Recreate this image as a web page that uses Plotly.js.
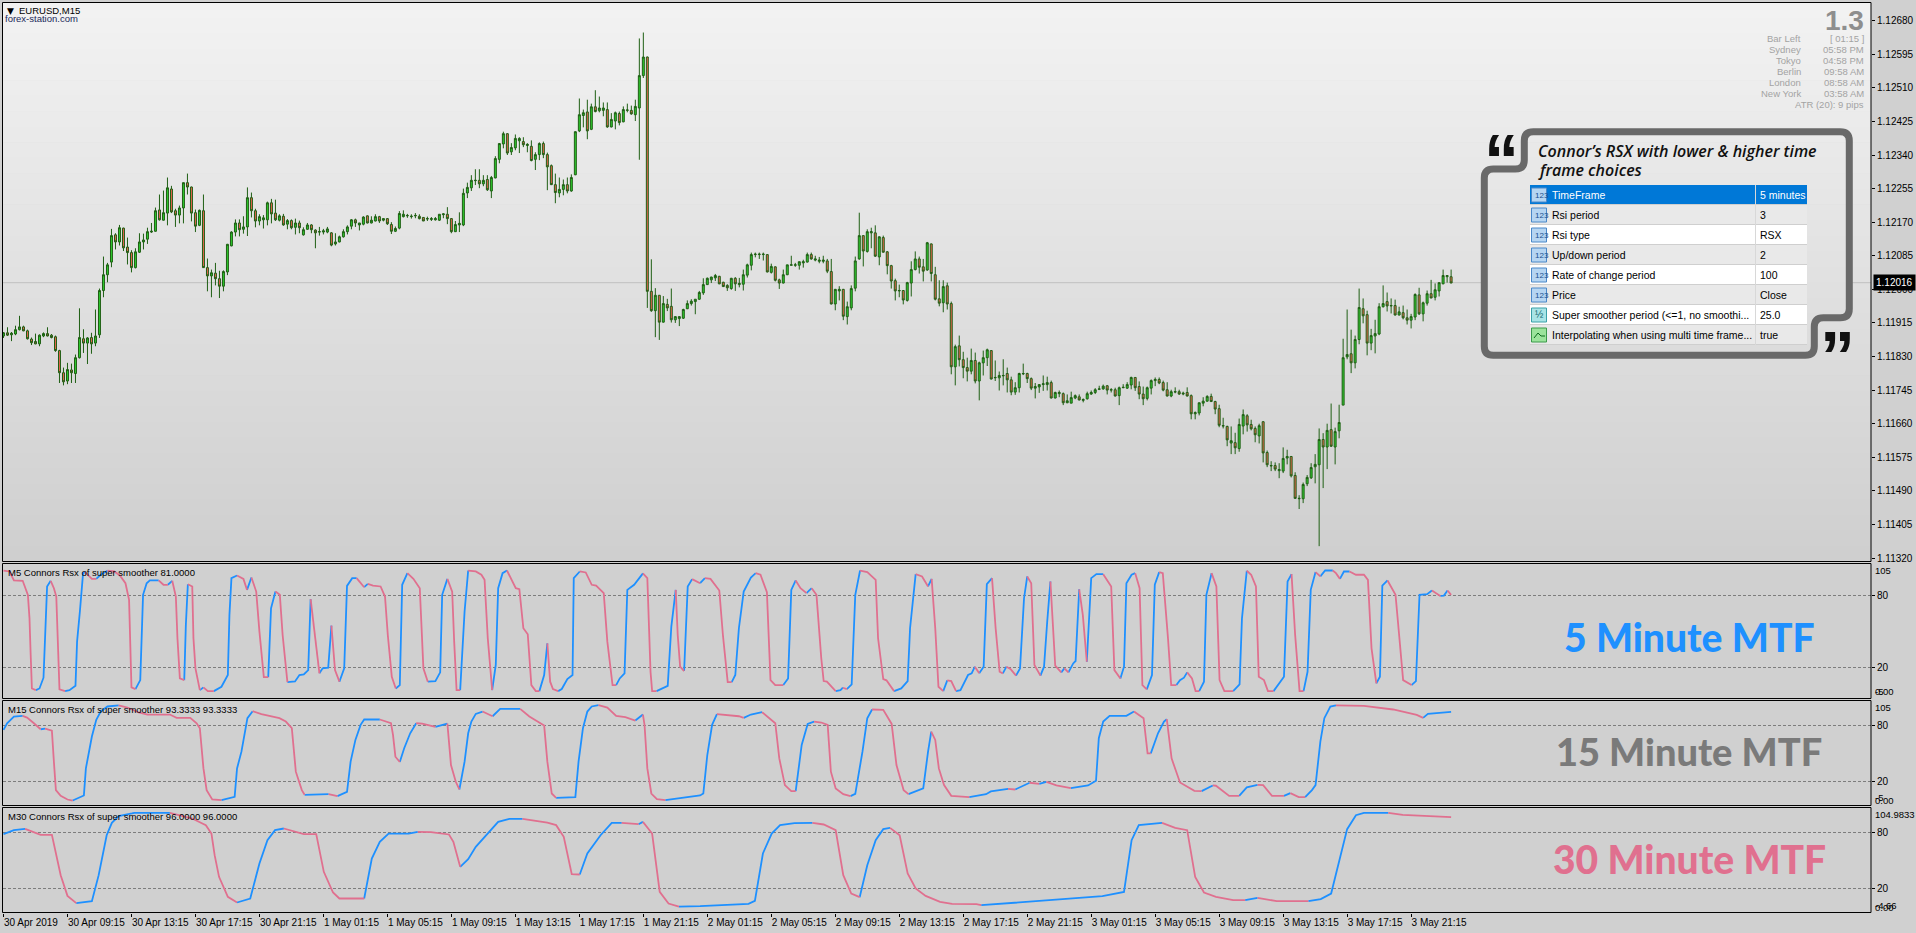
<!DOCTYPE html>
<html><head><meta charset="utf-8">
<script src="https://cdn.plot.ly/plotly-3.0.1.min.js"></script>
<style>html,body{margin:0;padding:0;background:#d0d0d0;overflow:hidden}#c{width:1916px;height:933px}</style>
</head><body><div id="c"></div>
<script>
// Candles: pipettes above 1.10000
const highs=[1892,1904,1892,1908,1933,1908,1898,1878,1888,1886,
1891,1904,1887,1883,1847,1802,1814,1812,1835,1952,
1899,1879,1890,1949,2002,2083,2067,2153,2142,2163,
2156,2131,2099,2104,2142,2141,2156,2168,2207,2240,
2250,2283,2262,2204,2212,2270,2293,2260,2202,2202,
2240,2078,2050,2067,2047,2048,2115,2147,2177,2177,
2185,2258,2245,2204,2190,2188,2222,2229,2227,2190,
2191,2178,2177,2179,2174,2157,2168,2165,2152,2158,
2153,2158,2145,2142,2136,2152,2162,2178,2179,2168,
2185,2187,2185,2190,2186,2179,2180,2170,2159,2198,
2200,2191,2190,2193,2190,2183,2184,2183,2183,2190,
2192,2208,2180,2173,2195,2255,2270,2289,2304,2304,
2289,2289,2287,2337,2370,2399,2395,2370,2392,2385,
2385,2370,2377,2347,2372,2374,2346,2316,2293,2283,
2278,2283,2291,2400,2483,2455,2480,2470,2504,2488,
2473,2473,2446,2450,2450,2463,2470,2465,2480,2635,
2650,2589,2076,2003,1985,1983,1976,2002,1932,1932,
1951,1972,1975,1975,1996,2028,2030,2032,2039,2034,
2019,2013,2029,2031,2029,2050,2065,2093,2093,2093,
2093,2088,2065,2058,2027,2050,2062,2085,2067,2070,
2075,2093,2093,2085,2082,2085,2077,2077,2001,2008,
2001,1969,2010,2083,2194,2136,2152,2156,2162,2134,
2136,2097,2062,2027,2012,1998,2019,2071,2096,2083,
2077,2120,2116,2057,2023,2023,2017,1969,1860,1883,
1842,1827,1850,1840,1817,1845,1850,1846,1820,1792,
1823,1802,1779,1765,1789,1812,1789,1777,1763,1760,
1782,1779,1769,1741,1744,1739,1734,1741,1734,1734,
1724,1741,1744,1750,1756,1759,1758,1750,1751,1754,
1760,1765,1779,1777,1767,1754,1754,1772,1777,1777,
1769,1765,1746,1752,1746,1741,1752,1734,1691,1713,
1727,1732,1736,1718,1708,1675,1655,1653,1637,1673,
1696,1684,1670,1653,1660,1666,1592,1565,1562,1560,
1600,1594,1578,1537,1479,1511,1530,1560,1583,1648,
1636,1660,1711,1650,1708,1875,1949,1898,1883,2002,
1977,1946,1900,1923,1965,2010,1992,1977,1974,1956,
1959,1949,1938,1990,2004,1969,1997,2024,2015,2017,
2050,2035,2050];
const lows=[1877,1882,1869,1884,1896,1894,1873,1859,1861,1856,
1879,1881,1876,1842,1763,1757,1760,1763,1763,1825,
1839,1811,1837,1856,1877,1980,2018,2056,2101,2111,
2097,2063,2043,2053,2092,2101,2115,2143,2146,2174,
2174,2162,2193,2158,2167,2167,2240,2172,2145,2160,
2054,1995,1980,2010,1978,1995,2036,2109,2134,2134,
2141,2135,2182,2157,2162,2154,2162,2167,2173,2172,
2161,2152,2152,2139,2142,2136,2151,2142,2104,2136,
2139,2142,2109,2111,2119,2131,2139,2152,2158,2149,
2162,2167,2167,2172,2168,2172,2163,2140,2145,2152,
2182,2181,2179,2180,2177,2173,2173,2173,2174,2173,
2180,2165,2142,2145,2145,2160,2231,2249,2264,2256,
2261,2249,2231,2281,2319,2357,2340,2340,2352,2345,
2360,2347,2324,2302,2327,2332,2251,2264,2218,2233,
2238,2243,2247,2289,2398,2410,2380,2403,2448,2448,
2438,2409,2410,2405,2415,2423,2448,2442,2426,2328,
2535,1953,1943,1879,1872,1916,1945,1916,1915,1907,
1925,1950,1959,1937,1973,1986,2011,2016,2021,2013,
2006,1996,1999,1996,2005,1997,2030,2048,2081,2077,
2073,2043,2040,2020,2001,2015,2036,2061,2057,2050,
2055,2068,2075,2071,2066,2066,2041,1962,1947,1972,
1922,1911,1947,1995,2075,2058,2093,2104,2082,2061,
2093,2038,2002,1972,1980,1962,1969,1982,2048,2040,
2020,2047,2020,1972,1957,1942,1949,1785,1757,1805,
1775,1767,1785,1762,1719,1782,1806,1772,1768,1744,
1757,1739,1732,1733,1739,1783,1763,1745,1724,1738,
1743,1744,1724,1724,1727,1707,1712,1712,1722,1719,
1714,1721,1733,1735,1745,1746,1734,1739,1729,1707,
1750,1748,1747,1743,1722,1707,1719,1734,1755,1760,
1742,1729,1727,1737,1733,1732,1729,1671,1671,1681,
1704,1716,1715,1684,1651,1648,1603,1583,1583,1589,
1633,1640,1643,1613,1610,1562,1550,1540,1540,1522,
1535,1557,1524,1470,1444,1459,1502,1520,1509,1350,
1497,1545,1601,1557,1623,1707,1823,1788,1800,1861,
1914,1833,1846,1838,1884,1954,1944,1939,1934,1934,
1924,1911,1901,1922,1935,1919,1959,1978,1972,1982,
2013,2017,2016];
const opens=[1882,1890,1885,1887,1898,1905,1895,1874,1868,1862,
1882,1888,1884,1880,1845,1789,1768,1796,1787,1827,
1875,1864,1878,1864,1885,1997,2037,2069,2138,2120,
2155,2107,2093,2055,2094,2120,2127,2145,2147,2201,
2175,2193,2254,2199,2188,2206,2270,2259,2194,2162,
2199,2055,2034,2041,2027,2008,2044,2110,2145,2168,
2152,2158,2232,2199,2173,2176,2176,2219,2193,2175,
2185,2165,2174,2157,2168,2138,2152,2163,2150,2145,
2145,2145,2143,2115,2120,2133,2146,2160,2176,2163,
2165,2186,2168,2173,2184,2175,2179,2164,2147,2155,
2184,2186,2184,2186,2185,2182,2178,2177,2176,2175,
2189,2190,2179,2146,2163,2163,2244,2257,2275,2276,
2267,2278,2249,2282,2329,2368,2394,2348,2358,2376,
2374,2364,2362,2329,2341,2369,2341,2313,2265,2244,
2253,2265,2249,2290,2401,2440,2449,2405,2462,2452,
2453,2455,2411,2426,2445,2424,2453,2453,2442,2459,
2541,2588,1995,1946,1985,1917,1962,1957,1923,1926,
1927,1951,1964,1969,1975,1991,2012,2024,2029,2033,
2018,2010,2002,2028,2012,2013,2036,2061,2088,2088,
2088,2088,2043,2057,2024,2016,2037,2061,2061,2061,
2067,2069,2088,2074,2071,2071,2072,2045,1963,1996,
2000,1931,1953,2003,2077,2136,2096,2143,2143,2082,
2131,2095,2060,2022,1996,1997,1972,2016,2050,2077,
2057,2049,2115,2037,1976,1966,2009,1964,1804,1857,
1822,1802,1793,1820,1768,1814,1827,1845,1776,1776,
1781,1787,1771,1740,1751,1786,1787,1774,1750,1753,
1759,1759,1764,1725,1736,1736,1713,1712,1725,1728,
1719,1723,1735,1739,1747,1748,1756,1745,1746,1731,
1751,1750,1758,1777,1754,1735,1724,1750,1769,1772,
1764,1746,1730,1740,1741,1735,1739,1731,1685,1687,
1712,1717,1729,1716,1698,1654,1653,1611,1612,1597,
1654,1680,1658,1648,1629,1665,1587,1553,1554,1541,
1540,1573,1577,1529,1470,1470,1508,1523,1551,1556,
1620,1601,1645,1601,1642,1707,1829,1837,1814,1873,
1951,1936,1864,1882,1887,1956,1969,1958,1959,1935,
1941,1928,1922,1930,1986,1938,1965,1989,1980,1996,
2014,2032,2032];
const closes=[1890,1884,1889,1898,1905,1895,1875,1865,1862,1884,
1888,1882,1878,1845,1789,1766,1797,1789,1827,1878,
1864,1877,1862,1882,1997,2037,2062,2136,2120,2156,
2105,2093,2055,2095,2120,2125,2146,2147,2199,2176,
2194,2257,2196,2188,2206,2270,2259,2193,2160,2200,
2055,2034,2042,2027,2008,2045,2114,2145,2168,2151,
2158,2232,2199,2173,2184,2181,2219,2191,2176,2186,
2163,2174,2156,2168,2156,2151,2163,2151,2143,2146,
2148,2153,2112,2120,2133,2146,2158,2176,2168,2168,
2183,2168,2175,2184,2173,2179,2166,2147,2154,2192,
2190,2187,2185,2187,2179,2173,2179,2179,2179,2190,
2191,2179,2146,2164,2167,2243,2258,2276,2276,2267,
2276,2252,2283,2331,2369,2394,2345,2359,2382,2382,
2366,2367,2326,2341,2369,2341,2310,2265,2245,2253,
2265,2249,2283,2399,2442,2447,2401,2462,2450,2459,
2459,2411,2430,2447,2422,2455,2454,2444,2463,2541,
2588,1995,1946,1985,1917,1964,1953,1923,1931,1931,
1949,1964,1970,1975,1992,2012,2028,2031,2035,2014,
2007,2004,2028,2014,2015,2037,2062,2088,2089,2089,
2089,2044,2058,2023,2016,2037,2062,2062,2062,2070,
2070,2088,2077,2077,2074,2074,2046,1963,2000,2000,
1932,1956,2002,2072,2136,2097,2146,2146,2084,2133,
2094,2060,2021,1996,1997,1973,2017,2050,2077,2056,
2046,2118,2040,1975,1965,2007,1963,1804,1855,1822,
1802,1793,1820,1768,1814,1827,1847,1773,1777,1782,
1782,1771,1740,1751,1787,1787,1774,1750,1754,1759,
1761,1764,1725,1739,1739,1713,1718,1726,1731,1720,
1721,1736,1739,1746,1748,1755,1745,1746,1730,1751,
1752,1759,1777,1751,1735,1723,1751,1769,1772,1763,
1745,1730,1741,1741,1735,1737,1730,1685,1688,1713,
1717,1729,1716,1697,1656,1655,1619,1617,1599,1658,
1683,1657,1647,1632,1655,1586,1556,1554,1545,1544,
1572,1577,1528,1471,1471,1506,1524,1549,1557,1620,
1601,1643,1603,1640,1663,1827,1835,1814,1873,1954,
1933,1864,1883,1888,1956,1964,1958,1959,1935,1943,
1928,1922,1931,1987,1938,1966,1989,1978,1999,2017,
2035,2035,2016];

// Indicator turning points: bar number, value
const m5Bars=[0,1.5,2.6,4.8,6.1,6.5,6.8,7.1,8.1,9,10,10.4,10.9,11.8,12.6,13.2,13.5,14,15.4,16.5,18,18.4,19.1,19.9,20.4,22.1,23.2,24.3,26,27.7,29.1,30.5,31.4,31.6,32,33,34.2,34.9,35.8,36.6,38.8,40,41.1,42.2,43.1,43.5,44.1,45.2,45.6,46.1,47.2,47.5,48,49.1,50,51.1,52.6,54.5,56.1,56.5,57,58.4,60,60.9,62,63.2,64,65.1,66.2,66.9,68,69.1,69.8,71,72.9,74,75.1,76.2,76.8,77.7,79,79.8,81.2,82,82.9,84,85.2,85.9,87.2,88.3,90.2,91.1,92.4,94.3,95.4,96.1,97.1,98.1,99.1,99.7,101,102.5,104.1,104.5,105,106.1,108,109.2,109.7,111,112.2,112.7,113.3,114.2,115.3,116.2,118.1,119.5,120.3,121.1,122.2,123.1,123.7,124.8,125.9,128.1,129,130,131.1,132,133.1,134,135.2,136,136.7,137.4,138.7,139.6,141,142.3,142.6,144.1,145.6,147.1,148.2,150.1,151,152.3,153.2,154.1,155.3,156,157.7,159.9,161,161.8,162.2,163.3,166.1,167,168.1,168.6,169.2,170.2,171.1,172.2,174.2,175.4,176.8,179,179.9,181.1,182.1,183,183.9,185.1,186.9,188.1,189.3,190.9,191.8,193,195,196.2,197,198.1,199.3,200.8,202.1,203.3,204.5,205.1,205.9,208.1,209.3,209.9,210.9,212.1,213,214.2,216,218.1,218.7,220,220.8,222.7,224.5,226.1,226.7,228.1,229.7,231.2,232.1,233,233.8,235,236,237,238.2,239.3,241.2,242.1,242.9,244,245.1,245.9,247.2,248.1,249.1,249.9,250.8,251.8,253.2,254.2,255.2,256,257,257.8,259.3,260.2,261,261.8,262.4,263,264.5,265.3,266.3,267.5,268.1,269,269.9,270.9,272,273.3,275,277,277.8,279.3,280.2,280.8,282.1,283,284.1,284.8,285.9,287.2,287.9,289,289.9,291.2,292,293.3,294.2,295.2,296,297.2,298.1,299,300.2,300.8,302.1,303.3,304.1,305.3,307.5,309.1,309.7,310.9,312,313.2,313.9,315.2,316.2,317.6,320.2,321.1,322.1,323,324.1,325.1,326.1,326.9,328.1,329.3,330.5,332.4,333.2,334.2,335.2,336.6,338.2,340.2,341.2,342.1,343.3,344.2,344.8,346.1,348.1,349,350,352.1,353.2,354.1,356,357.2,359.3,360.2,361.1,362];
const m5Values=[100.4,99.6,92.2,91.9,80.3,60.9,30.5,2.9,1.5,2.9,11.8,47.1,87.2,91.9,85.8,78.9,44.4,2.1,0.7,1.5,5.1,41.6,66.5,98.2,99.1,93.5,93.5,96.9,100.2,99.6,96.3,89.9,76.1,47.1,3.8,2.4,9.8,80.3,89.9,92.2,92.2,88.6,88.6,91.9,78.9,44.4,11.2,9.8,55.4,89.1,87.2,44.4,19.5,1.5,3.8,0.7,0.7,4.3,14,63.7,94.1,96.3,93.5,84.4,94.6,83,49.9,12.3,12.3,69.2,83,80.3,47.1,8.2,8.7,14,14.5,18.1,76.7,49.9,15.4,19.5,20.1,54.9,18.1,8.5,19.5,87.7,94.1,94.1,86.6,89.4,88,87.2,78.9,47.1,12.6,2.9,5.7,88.6,98.2,93.5,85.8,49.9,19.5,8.5,9,16.2,80.3,93.5,83,41.6,1.5,1.5,66.5,100.4,99.6,96.9,92.7,44.4,1.5,22.3,85.8,98.2,100.4,85.8,85,52.7,47.7,5.7,0.7,0.7,14,40.2,8.5,2.4,0.7,2.4,10.7,14,94.1,99.6,98.8,88.6,88,81.7,41.6,5.7,5.7,11.2,15.4,84.4,88.6,98,94.1,16.7,0.7,0.7,5.1,54,84.4,47.1,20.9,17.3,87.2,93.3,89.9,94.1,93.5,83.9,47.1,8.2,8.2,14,52.7,83,94.6,98.2,96.9,82.5,9.8,5.7,5.7,11.2,84.4,92.2,85.8,81.7,85.8,80.3,27.8,9,8.5,0.7,1.5,3.5,2.4,6.2,80.3,100.4,99.1,92.7,44.4,10.7,9.6,0.7,2.9,9,52.7,97.4,95.5,87.2,93.5,52.7,4.3,0.7,9.6,9,0.7,1.5,14,15.4,20.9,15.4,20.9,89.1,94.1,52.7,16.7,15.4,20.9,19,13.5,19.5,77.5,95.5,89.9,22.3,13.5,20.9,58.2,91.3,52.7,21.7,16.2,19.5,16.2,23.6,25.6,84.9,63.7,25,94.1,97.4,97.4,87.2,18.1,11.2,20.9,89.9,96.9,98.2,85.8,5.7,2.1,14,88.6,99.1,98.2,44.4,5.7,5.7,9.8,11.8,16.2,11.2,0.7,0.7,8.5,80.3,98.2,87.2,9.8,0.7,0.7,6.2,60.9,100.2,96.9,87.2,12.6,9.8,0.7,0.7,12.6,91.3,97.4,47.1,0.7,0.7,16.7,84.4,99.1,95.5,100.4,100.4,98.2,93.5,99.6,99.6,96.9,96.9,92.7,36.1,7.1,12.6,88,92.2,80.3,47.1,9.8,5.7,9,80.3,80.8,83.9,79.4,79.7,83.9,80.3];
const m15Bars=[0,0.9,2.6,4.8,5.9,7.6,9.3,10.4,12.1,12.6,13.1,14.3,16,17.3,18.8,20.1,20.6,22.1,23.2,24.3,26,28.8,31,33.8,36,41.6,43.3,46.7,48.3,49.1,50,50.8,52.2,54.5,57.8,58.4,59.5,61,62.3,64.5,69,70.6,72.1,73.1,74.6,75.3,81.3,83.5,85.9,86.8,88,89.3,90.2,94.1,96.9,97.4,98,99.1,100.2,101.7,103.2,104.7,108,111,111.9,113.1,114,115.3,116.2,117,118.1,119.8,122.3,124.2,129.2,131.5,135.2,136,137.1,138.2,143,143.8,144.9,146,147.1,148.8,151,153.2,155.5,158,159.9,160.3,161,162,163.4,165.5,168.9,174.2,175,176,177.2,178.4,183.9,185.1,186.9,189.7,193,194,195.4,197,198.1,199.6,201.1,202.7,204.5,206.1,206.9,208.1,210,211.8,213,214.8,216,217.2,220,222.1,223.3,225.1,226.3,230,231.2,232,233,233.9,235.2,237,241.5,245.7,246.9,251.2,253,256.6,259,260.8,263.3,266.9,271.2,273.2,273.9,275,276.6,280.8,282.7,285.1,286.1,286.9,288.7,290.2,290.9,292.1,294.2,297.8,299.6,302.4,303.2,306.5,309,310.9,313.6,315,317.2,320.2,321.8,323.9,325.5,327.2,328.1,329.3,330.3,331.8,333.2,340.2,347.5,353.4,355,356.2,362];
const m15Values=[75,82.1,89.3,90,88.2,82.1,75.7,76.4,74.3,41.1,10.7,4.6,0.7,-0.4,2.9,5,33.9,67.9,85.7,94.6,100,101.1,98.9,93.6,91.4,91.4,87.9,87.9,82.1,76.8,33.9,10.7,0.7,0,3.6,33.9,51.8,87.5,95,91.8,87.5,83.9,76.8,30.4,10.7,5.7,6.4,4.3,8.9,41.1,64.3,80.4,86.1,86.1,82.1,69.6,46.4,40.7,55.4,71.4,82.1,81.8,78.2,81.8,37.5,19.6,11.4,41.1,71.4,83.9,92.1,94.6,89.6,97.5,97.5,89.3,79.6,41.1,7.1,2.5,3.2,41.1,76.8,94.6,100,101.4,98.9,90,88.6,85,91.4,80.4,33.9,7.1,1.1,0,1.8,5,7.1,48.2,80.4,91.8,89.6,87.9,91.4,93.9,82.1,44.6,16.1,9.6,9.6,58.9,81.4,83.9,82.9,80.4,30.4,12.5,6.4,4.3,6.8,51.8,87.5,96.8,96.4,81.4,37.5,10.7,6.4,12.5,51.8,73.2,64.3,33.9,16.1,4.6,3.2,6.4,9.3,12.1,11.4,18.6,17.5,19.6,15.7,12.9,15.7,20.7,66.1,83.9,90,90,94.6,87.5,50,50,71.4,83.9,86.4,44.6,18.9,10,9.6,15.7,15.4,4.6,4.6,13.6,16.4,16.1,4.6,4.6,7.5,3.2,3.2,10.7,16.1,62.5,87.5,100,101.1,100.7,96.8,91.1,87.9,92.1,94.3];
const m30Bars=[0,2.6,5.4,7.6,9.3,12.1,13.2,14.3,16,18.2,22.1,23.8,25.8,27.1,28.8,32.1,32.7,41.6,47.2,50.6,52,52.8,53.9,56.1,58.4,61.7,64,66,67.9,70.1,75.1,78.2,80.1,82.4,84,90.2,92.1,94.1,96.3,101.3,103.6,106.9,111.4,112.5,114.2,116.2,118.1,123.7,126.5,129.8,136,138.2,140.1,142.1,144.1,146,149.3,152.1,154.6,158.8,159.9,162.2,164.1,166.3,168.9,174.2,186.3,187.9,189.9,192.1,194.2,197.8,202.3,205.1,208.1,210,212,214.1,216,218.1,220,221.7,224.1,226.1,228.1,230.6,234.2,237.2,243.3,244.5,250.5,256.6,261.5,271.2,274.8,280.2,282.1,283.9,287,289.7,293,296,298,300.2,303.2,307.5,310.5,313.6,318.4,326.3,329.4,332,336,338.2,340.2,346.3,349.9,362];
const m30Values=[78.2,82.5,83.9,80.7,77.5,77.5,55.7,34.3,12.1,4.3,6.4,34.3,77.1,90.4,97.5,100.4,101.1,101.1,95,87.9,78.9,55.7,32.5,11.1,5,9.3,46.8,71.8,82.5,84.3,78.2,78.2,37.9,15.7,9.3,9.3,52.1,70,78.9,78.9,80.7,80.4,77.9,70,43.2,51.4,64.6,91.4,94.6,94.6,90.7,87.9,75.4,35.4,35,57.5,77.1,90.4,90.4,88.9,91.4,78.9,16.4,3.9,0.7,1.1,3.6,6.8,57.5,78.9,87.9,90,90.4,88.6,82.5,34.3,14.6,10.7,45,71.8,83.6,85,77.1,36.1,20,12.1,5.7,3.6,3.2,2.1,3.9,6,7.5,10,11.8,16.4,71.8,87.9,88.9,90.4,85,82.5,32.5,15.7,11.1,7.5,7.5,10,6.4,6.4,8.6,14.6,83.6,98.6,101.1,101.1,98.9,96.4];

const xLabels=["30 Apr 2019","30 Apr 09:15","30 Apr 13:15","30 Apr 17:15","30 Apr 21:15","1 May 01:15","1 May 05:15","1 May 09:15","1 May 13:15","1 May 17:15","1 May 21:15","2 May 01:15","2 May 05:15","2 May 09:15","2 May 13:15","2 May 17:15","2 May 21:15","3 May 01:15","3 May 05:15","3 May 09:15","3 May 13:15","3 May 17:15","3 May 21:15"];
const priceTicks=[1.1132,1.11405,1.1149,1.11575,1.1166,1.11745,1.1183,1.11915,1.12,1.12085,1.1217,1.12255,1.1234,1.12425,1.1251,1.12595,1.1268];
const lastPrice=1.12016;
const rowNames=["TimeFrame","Rsi period","Rsi type","Up/down period","Rate of change period","Price","Super smoother period (<=1, no smoothi...","Interpolating when using multi time frame..."];
const rowValues=["5 minutes","3","RSX","2","100","Close","25.0","true"];
const sessionNames=["Bar Left","Sydney","Tokyo","Berlin","London","New York"];
const sessionValues=["[ 01:15 ]","05:58 PM","04:58 PM","09:58 AM","08:58 AM","03:58 AM"];

const W=1916,H=933;
const fx=p=>p/W, fy=p=>1-p/H;
const FONT='"Liberation Sans",sans-serif';
const BLUE='#1e90ff',PINK='#e0708f';
const N=highs.length, idx=Array.from({length:N},(_,i)=>i);
const px=v=>1.1+v/1e5;
const xRange=[-0.25,467];

function split(xs,ys,ax){
  const b={x:[],y:[]},p={x:[],y:[]};let prev=null,dir=true;
  for(let k=0;k<xs.length-1;k++){
    if(ys[k+1]>ys[k])dir=true;else if(ys[k+1]<ys[k])dir=false;
    const t=dir?b:p,o=dir?p:b;
    if(prev!==dir){o.x.push(null);o.y.push(null);t.x.push(xs[k]);t.y.push(ys[k]);}
    t.x.push(xs[k+1]);t.y.push(ys[k+1]);prev=dir;
  }
  const mk=(s,c)=>({type:'scatter',mode:'lines',x:s.x,y:s.y,yaxis:ax,xaxis:'x',connectgaps:false,line:{color:c,width:1.8},hoverinfo:'skip'});
  return [mk(b,BLUE),mk(p,PINK)];
}
const traces=[{type:'candlestick',x:idx,open:opens.map(px),high:highs.map(px),low:lows.map(px),close:closes.map(px),xaxis:'x',yaxis:'y',
 whiskerwidth:0,hoverinfo:'skip',
 increasing:{line:{color:'#1f5f14',width:1},fillcolor:'#2ecb2e'},
 decreasing:{line:{color:'#1f5f14',width:1},fillcolor:'#e8654f'}},
 ...split(m5Bars,m5Values,'y2'),...split(m15Bars,m15Values,'y3'),...split(m30Bars,m30Values,'y4')];

// frames and background
const shapes=[];
const rect=(x0,y0,x1,y1,fill,line,layer)=>({type:'rect',xref:'paper',yref:'paper',x0:fx(x0),x1:fx(x1),y0:fy(y1),y1:fy(y0),fillcolor:fill,line:line?{color:line,width:1}:{width:0},layer:layer||'below'});
const PL=2.5,PR=1871;
const mainTop=2.5,mainBot=561.5;
const steps=36;
for(let k=0;k<steps;k++){const g=242-k;const c=`rgb(${g},${g},${g})`;
  shapes.push(rect(PL,mainTop+(mainBot-mainTop)*k/steps,PR,mainTop+(mainBot-mainTop)*(k+1)/steps+0.5,c,null));}
const yLast=289-(lastPrice-1.12)*39530;
[[PL,1484],[1849,PR]].forEach(s=>shapes.push({type:'line',xref:'paper',yref:'paper',x0:fx(s[0]),x1:fx(s[1]),y0:fy(yLast),y1:fy(yLast),line:{color:'#c0c0c0',width:1},layer:'below'}));
const panels=[[mainTop,mainBot],[563.5,698.5],[700.5,805.5],[807.5,912.5]];
panels.forEach(p=>shapes.push(rect(PL,p[0],PR,p[1],'rgba(0,0,0,0)','#000','above')));
// speech bubble
const bub=[[1524.3,131.7],[1849.3,131.7],[1849.3,317.7],[1814.3,317.7],[1814.3,355.3],[1484.3,355.3],[1484.3,169],[1524.3,169]];
let d='';const R=9;
bub.forEach((pt,i)=>{const a=bub[(i+bub.length-1)%bub.length],b=bub[(i+1)%bub.length];
  const u=(q)=>{const dx=q[0]-pt[0],dy=q[1]-pt[1],l=Math.hypot(dx,dy);return [pt[0]+dx/l*R,pt[1]+dy/l*R];};
  const s=u(a),e=u(b);
  d+=(i?'L':'M')+fx(s[0])+','+fy(s[1])+' Q'+fx(pt[0])+','+fy(pt[1])+' '+fx(e[0])+','+fy(e[1])+' ';});
shapes.push({type:'path',xref:'paper',yref:'paper',path:d+'Z',line:{color:'#696969',width:7},layer:'above'});
// table
const ann=[];
const T=(x,y,text,o)=>ann.push(Object.assign({xref:'paper',yref:'paper',x:fx(x),y:fy(y),text:text,showarrow:false,xanchor:'left',yanchor:'middle',borderpad:0,
  font:{family:FONT,size:10,color:'#000'}},o||{},{font:Object.assign({family:FONT,size:10,color:'#000'},(o||{}).font||{})}));
const tL=1530,tM=1755.5,tR=1807,tT=185,rh=20;
rowNames.forEach((n,i)=>{
  const y0=tT+i*rh,fill=i===0?'#0078d7':(i%2?'#e9e9e9':'#ffffff');
  shapes.push(rect(tL,y0,tR,y0+rh,fill,null,'above'));
  shapes.push({type:'line',xref:'paper',yref:'paper',x0:fx(tL),x1:fx(tR),y0:fy(y0+rh-0.5),y1:fy(y0+rh-0.5),line:{color:'#cfcfcf',width:1},layer:'above'});
  shapes.push({type:'line',xref:'paper',yref:'paper',x0:fx(tM),x1:fx(tM),y0:fy(y0),y1:fy(y0+rh),line:{color:'#d8d8d8',width:1},layer:'above'});
  const ic=i===7?['#9be39b','#3a9a4a']:(i===6?['#a8e4e6','#3aa0a8']:['#b5d5f2','#4a88c8']);
  shapes.push(rect(tL+1.5,y0+3,tL+16.5,y0+17,ic[0],ic[1],'above'));
  const col=i===0?'#fff':'#000';
  T(tL+21,y0+10,n.replace('<','&lt;'),{font:{size:10.5,color:col}});
  T(tM+3.5,y0+10,rowValues[i],{font:{size:10.5,color:col}});
  if(i<6)T(tL+3.5,y0+10.5,'123',{font:{size:8,color:'#1a4f8f'}});
  if(i===6)T(tL+4,y0+10,'½',{font:{size:10,color:'#12666e'}});
});
shapes.push({type:'path',xref:'paper',yref:'paper',path:`M${fx(tL+4)},${fy(tT+7*rh+13)} L${fx(tL+8)},${fy(tT+7*rh+8)} L${fx(tL+11)},${fy(tT+7*rh+11)} L${fx(tL+15)},${fy(tT+7*rh+11)}`,line:{color:'#0c6a1c',width:1},layer:'above'});

// labels
const titleFont='"Open Sans",sans-serif';
T(1536.5,150.7,'Connor’s RSX with lower &amp; higher time',{font:{family:titleFont,size:16,color:'#111',weight:600,style:'italic'}});
T(1536.5,169.7,'frame choices',{font:{family:titleFont,size:16,color:'#111',weight:600,style:'italic'}});
T(1483,160,'“',{font:{family:FONT,size:70,color:'#111',weight:700}});
T(1819,357,'”',{font:{family:FONT,size:70,color:'#111',weight:700}});
const big=(y,t,c,s)=>T(1689,y,t,{xanchor:'center',font:{family:'Lato,sans-serif',size:s,color:c,weight:900}});
big(637,'5 Minute MTF',BLUE,39);
big(750.7,'15 Minute MTF','#7a7a7a',38);
big(859,'30 Minute MTF',PINK,39);
T(18,10.7,'EURUSD,M15',{font:{size:9.5,color:'#000'}});
T(5.5,10.7,'▼',{font:{family:'DejaVu Sans',size:9,color:'#000'}});
T(4,19,'forex-station.com',{font:{size:9.5,color:'#1a2a5a'}});
T(7,572.7,'M5 Connors Rsx of super smoother 81.0000',{font:{size:9.5}});
T(7,709.7,'M15 Connors Rsx of super smoother 93.3333 93.3333',{font:{size:9.5}});
T(7,816.7,'M30 Connors Rsx of super smoother 96.0000 96.0000',{font:{size:9.5}});
T(1865,20,'1.3',{xanchor:'right',font:{size:28,color:'#8e8e8e',weight:700}});
const gy='#a3a3a3';
sessionNames.forEach((n,i)=>{const y=38.3+i*11;
  T(1802,y,n,{xanchor:'right',font:{size:9.5,color:gy}});
  T(1865,y,sessionValues[i],{xanchor:'right',font:{size:9.5,color:gy}});});
T(1865,104.7,'ATR (20): 9 pips',{xanchor:'right',font:{size:9.5,color:gy}});
T(1873,282.7,'1.12016',{bgcolor:'#000',borderpad:2,font:{size:10,color:'#fff'}});
[[570.3,'105'],[691.7,'-5'],[691.7,'0.00'],[707.7,'105'],[797.7,'-5'],[800.7,'0.00'],[814.3,'104.9833'],[905.7,'-4.66'],[907.7,'0.00']].forEach(a=>T(1874,a[0],a[1],{font:{size:9.5}}));

const yBase=(dom,range)=>({domain:dom,range:range,anchor:'x',side:'right',showline:false,zeroline:false,showgrid:true,gridcolor:'#7d7d7d',griddash:'3px,2px',gridwidth:1,
  tickmode:'array',tickvals:[20,80],ticktext:['20','80'],ticks:'outside',ticklen:3,tickcolor:'#000',tickfont:{family:FONT,size:10,color:'#000'},fixedrange:true,automargin:false});
const dom=(a,b)=>[fy(b),fy(a)];
const layout={width:W,height:H,margin:{l:0,r:0,t:0,b:0},paper_bgcolor:'#d0d0d0',plot_bgcolor:'rgba(0,0,0,0)',showlegend:false,hovermode:false,
  xaxis:{domain:[fx(PL),fx(PR)],range:xRange,anchor:'y4',showgrid:false,zeroline:false,showline:false,rangeslider:{visible:false},
    tickmode:'array',tickvals:xLabels.map((_,i)=>i*16),ticktext:xLabels,ticks:'outside',ticklen:3,tickcolor:'#000',tickangle:0,ticklabelposition:'outside right',
    tickfont:{family:FONT,size:10,color:'#000'},fixedrange:true,automargin:false},
  yaxis:{domain:dom(mainTop,mainBot),range:[1.113112,1.12726],anchor:'x',side:'right',showgrid:false,zeroline:false,showline:false,
    tickmode:'array',tickvals:priceTicks,ticktext:priceTicks.map(v=>v.toFixed(5)),ticks:'outside',ticklen:3,tickcolor:'#000',tickfont:{family:FONT,size:10,color:'#000'},fixedrange:true,automargin:false},
  yaxis2:yBase(dom(563.5,698.5),[-5.4,106.2]),
  yaxis3:yBase(dom(700.5,805.5),[-5.7,106.4]),
  yaxis4:yBase(dom(807.5,912.5),[-5.7,106.8]),
  shapes:shapes,annotations:ann};
Plotly.newPlot('c',traces,layout,{staticPlot:true,displayModeBar:false});
</script></body></html>
